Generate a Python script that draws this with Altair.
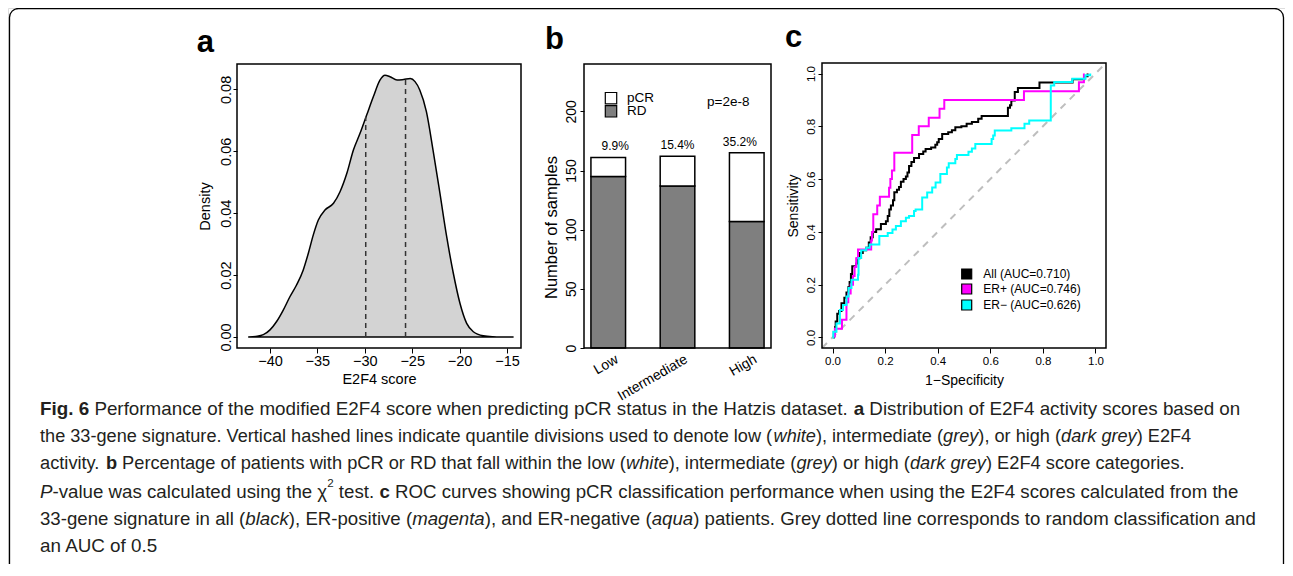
import altair as alt
import pandas as pd

# ---------------- data: panel a (density of E2F4 score) ----------------
dens_x = [-42.3, -41.5, -40.7, -40.0, -39.3, -38.6, -37.9, -37.2, -36.5, -35.96,
          -35.43, -34.9, -34.2, -33.3, -32.6, -31.9, -31.2, -30.5, -29.8, -29.1,
          -28.4, -27.87, -27.34, -26.6, -25.9, -25.2, -24.7, -24.2, -23.5, -22.8,
          -22.07, -21.36, -20.66, -19.96, -19.25, -18.55, -17.5, -16.5, -15.5, -14.3]
dens_y = [0.0, 0.0002, 0.00075, 0.0023, 0.005, 0.0087, 0.013, 0.0168, 0.0216, 0.027,
          0.033, 0.0378, 0.041, 0.0432, 0.047, 0.0528, 0.0604, 0.0658, 0.0717, 0.0776,
          0.083, 0.0846, 0.0841, 0.083, 0.0832, 0.0835, 0.0825, 0.0798, 0.0728, 0.0604,
          0.0464, 0.0324, 0.0206, 0.0109, 0.0044, 0.0017, 0.0004, 0.0001, 0.00002, 0.0]
quant_x = [-29.9, -25.7]
quant_top = [0.0711, 0.0832]
a_xticks = [-40, -35, -30, -25, -20, -15]
a_yticks = [0.0, 0.02, 0.04, 0.06, 0.08]

# ---------------- data: panel b (stacked bars) ----------------
cats = ["Low", "Intermediate", "High"]
rd_n = [145, 137, 107]
pcr_n = [16, 25, 58]
b_yticks = [0, 50, 100, 150, 200]
b_legend = ["pCR", "RD"]
b_legend_fill = ["white", "#7f7f7f"]
p_text = "p=2e-8"

# ---------------- data: panel c (ROC curves) ----------------
all_fpr = [0.003, 0.005, 0.010, 0.012, 0.018, 0.025, 0.034, 0.045, 0.053, 0.060,
           0.065, 0.070, 0.075, 0.090, 0.095, 0.103, 0.115, 0.128, 0.138, 0.145,
           0.153, 0.166, 0.184, 0.203, 0.210, 0.216, 0.222, 0.230, 0.235, 0.245,
           0.253, 0.260, 0.270, 0.279, 0.285, 0.291, 0.300, 0.310, 0.329, 0.345,
           0.354, 0.375, 0.391, 0.398, 0.404, 0.417, 0.440, 0.454, 0.467, 0.490,
           0.510, 0.530, 0.554, 0.567, 0.667, 0.675, 0.680, 0.693, 0.705, 0.787,
           0.913, 0.957, 0.970]
all_tpr = [0.000, 0.020, 0.040, 0.060, 0.090, 0.100, 0.130, 0.150, 0.170, 0.190,
           0.210, 0.240, 0.270, 0.280, 0.300, 0.320, 0.330, 0.340, 0.360, 0.380,
           0.400, 0.410, 0.430, 0.440, 0.460, 0.485, 0.500, 0.520, 0.550, 0.560,
           0.570, 0.590, 0.600, 0.610, 0.625, 0.650, 0.665, 0.680, 0.695, 0.705,
           0.714, 0.720, 0.730, 0.740, 0.752, 0.771, 0.778, 0.785, 0.797, 0.800,
           0.810, 0.816, 0.829, 0.839, 0.870, 0.880, 0.898, 0.930, 0.945, 0.966,
           0.978, 0.990, 1.000]
erp_fpr = [0.009, 0.009, 0.036, 0.053, 0.053, 0.060, 0.069, 0.078, 0.084, 0.090,
           0.097, 0.147, 0.150, 0.155, 0.170, 0.180, 0.215, 0.220, 0.226, 0.235,
           0.303, 0.328, 0.366, 0.407, 0.425, 0.728, 0.937, 0.956]
erp_tpr = [0.000, 0.033, 0.067, 0.100, 0.133, 0.167, 0.200, 0.233, 0.267, 0.300,
           0.333, 0.367, 0.400, 0.467, 0.500, 0.533, 0.567, 0.600, 0.633, 0.700,
           0.767, 0.800, 0.833, 0.867, 0.900, 0.933, 0.967, 1.000]
ern_fpr = [0.000, 0.003, 0.015, 0.028, 0.040, 0.053, 0.061, 0.072, 0.097, 0.099,
           0.109, 0.128, 0.141, 0.178, 0.210, 0.228, 0.241, 0.260, 0.279, 0.291,
           0.310, 0.316, 0.341, 0.360, 0.379, 0.392, 0.410, 0.435, 0.442, 0.467,
           0.473, 0.517, 0.530, 0.543, 0.605, 0.611, 0.617, 0.680, 0.730, 0.748,
           0.830, 0.843, 0.912, 0.962, 0.980]
ern_tpr = [0.000, 0.022, 0.053, 0.104, 0.123, 0.155, 0.187, 0.219, 0.238, 0.301,
           0.330, 0.340, 0.352, 0.384, 0.396, 0.409, 0.422, 0.440, 0.454, 0.460,
           0.479, 0.485, 0.530, 0.549, 0.568, 0.587, 0.619, 0.644, 0.660, 0.676,
           0.691, 0.704, 0.716, 0.733, 0.752, 0.765, 0.784, 0.793, 0.810, 0.822,
           0.955, 0.968, 0.980, 0.994, 1.000]
c_ticks = [0.0, 0.2, 0.4, 0.6, 0.8, 1.0]
c_legend = ["All (AUC=0.710)", "ER+ (AUC=0.746)", "ER\u2212 (AUC=0.626)"]
c_colors = ["black", "#ff00ff", "#00ffff"]

panel_letters = ["a", "b", "c"]

caption_lines = [
    [("Fig. 6", "bold"),
     (" Performance of the modified E2F4 score when predicting pCR status in the Hatzis dataset. ", "normal"),
     ("a", "bold"), (" Distribution of E2F4 activity scores based on", "normal")],
    [("the 33-gene signature. Vertical hashed lines indicate quantile divisions used to denote low (", "normal"),
     ("white", "italic"), ("), intermediate (", "normal"), ("grey", "italic"),
     ("), or high (", "normal"), ("dark grey", "italic"), (") E2F4", "normal")],
    [("activity. ", "normal"), ("b", "bold"),
     (" Percentage of patients with pCR or RD that fall within the low (", "normal"),
     ("white", "italic"), ("), intermediate (", "normal"), ("grey", "italic"),
     (") or high (", "normal"), ("dark grey", "italic"), (") E2F4 score categories.", "normal")],
    [("P", "italic"), ("-value was calculated using the \u03c7", "normal"), ("2", "sup"),
     (" test. ", "normal"), ("c", "bold"),
     (" ROC curves showing pCR classification performance when using the E2F4 scores calculated from the", "normal")],
    [("33-gene signature in all (", "normal"), ("black", "italic"), ("), ER-positive (", "normal"),
     ("magenta", "italic"), ("), and ER-negative (", "normal"), ("aqua", "italic"),
     (") patients. Grey dotted line corresponds to random classification and", "normal")],
    [("an AUC of 0.5", "normal")],
]

# ---------------- layout (chart pixels) ----------------
W, H = 1277, 556
FONT = "Liberation Sans"
CAP_FONT = "Liberation Sans"
INK = "#231f20"
PA = (229, 513, 56, 340)   # x left, x right, y top, y bottom
PB = (576, 763, 56, 340)
PC = (814, 1098, 55, 340)
CAP_X = 32
CAP_END = [1247, 1136, 1138, 1234, 1247, 152]   # right end of each caption line
CAP_Y = [401, 429, 456, 484, 511, 538]
CAP_MAX = 1249

# Arial / Liberation Sans advance widths (1/1000 em)
_w = [278, 278, 355, 556, 556, 889, 667, 191, 333, 333, 389, 584, 278, 333, 278, 278] + [556] * 10 + \
     [278, 278, 584, 584, 584, 556, 1015,
      667, 667, 722, 722, 667, 611, 778, 722, 278, 500, 667, 556, 833, 722, 778, 667, 778, 722, 667,
      611, 722, 667, 944, 667, 667, 611, 278, 278, 278, 469, 556, 333,
      556, 556, 500, 556, 556, 278, 556, 556, 222, 222, 500, 222, 833, 556, 556, 556, 556, 333, 500,
      278, 556, 500, 722, 500, 500, 500, 334, 260, 334, 584]
HELV = {chr(32 + i): v for i, v in enumerate(_w)}
HELV_B = dict(HELV)
HELV_B.update({"F": 611, "i": 278, "g": 611, ".": 278, " ": 278, "6": 556, "a": 556, "b": 611, "c": 556})
SUP = 0.62


def tw(s, size, bold=False):
    tab = HELV_B if bold else HELV
    return sum(tab.get(ch, 520) for ch in s) * size / 1000.0


def line_units(segs):
    return sum(tw(t, SUP if st == "sup" else 1.0, st == "bold") for t, st in segs)


# one common size (longest line fits the frame), nudged gently per line towards its end
FS = (CAP_MAX - CAP_X) / max(line_units(s) for s in caption_lines)

cap_rows = []
for li, segs in enumerate(caption_lines):
    ratio = (CAP_END[li] - CAP_X) / (line_units(segs) * FS)
    fs = FS * ratio ** 0.4
    fs = min(fs, (CAP_MAX - CAP_X) / line_units(segs))
    cx = CAP_X
    for text, style in segs:
        size = fs * SUP if style == "sup" else fs
        bold = style == "bold"
        lead = len(text) - len(text.lstrip(" "))
        body = text.strip(" ")
        if body:
            cap_rows.append(dict(px=cx + lead * tw(" ", size, bold),
                                 py=CAP_Y[li] - (0.42 * fs if style == "sup" else 0.0),
                                 t=body, s=style, fs=size))
        cx += tw(text, size, bold)
cap = pd.DataFrame(cap_rows)


def axis(**kw):
    base = dict(domain=False, grid=False, tickColor="black", tickWidth=1,
                labelColor="black", labelFont=FONT, titleFont=FONT, titleColor="black",
                titleFontWeight="normal", labelOverlap=False, labelFlush=False)
    base.update(kw)
    return alt.Axis(**base)


def yaxis(P, values, fmt, lsize, title, tsize, tx, ty, pad):
    return axis(orient="left", offset=-P[0], values=values, format=fmt, tickSize=4,
                labelPadding=pad, labelAngle=270, labelAlign="center", labelBaseline="middle",
                labelFontSize=lsize, title=title, titleFontSize=tsize, titleX=tx, titleY=ty,
                titleAngle=270, titleAlign="center", titleBaseline="middle")


def xaxis(P, values, fmt, lsize, title, tsize, ty):
    return axis(orient="bottom", offset=P[3] - H, values=values, format=fmt, tickSize=5,
                labelPadding=8.5, labelBaseline="middle", labelFontSize=lsize,
                title=title, titleFontSize=tsize, titleX=(P[0] + P[1]) / 2, titleY=ty,
                titleAngle=0, titleAlign="center", titleBaseline="middle")


one = pd.DataFrame({"k": [0]})

# ---------------- panel a ----------------
dens = pd.DataFrame({"x": dens_x, "y": dens_y, "y0": 0.0})
quant = pd.DataFrame({"x": quant_x, "top": quant_top, "y0": 0.0})


def xa():
    return alt.Scale(domain=[-43.48, -13.52], range=[PA[0], PA[1]], nice=False, zero=False)


def ya():
    return alt.Scale(domain=[-0.00355, 0.0882], range=[PA[3], PA[2]], nice=False, zero=False)


a_area = alt.Chart(dens).mark_area(fill="#d3d3d3", stroke="black", strokeWidth=1.5,
                                   interpolate="monotone").encode(
    x=alt.X("x:Q", scale=xa(), axis=xaxis(PA, a_xticks, "d", 14.5, "E2F4 score", 14.5, 31)),
    y=alt.Y("y:Q", scale=ya(), axis=yaxis(PA, a_yticks, ".2f", 14.5, "Density", 14.5, -32,
                                          (PA[2] + PA[3]) / 2, 6.3)),
    y2=alt.Y2("y0:Q"),
)
a_quant = alt.Chart(quant).mark_rule(strokeDash=[5, 4], strokeWidth=1.5, color="#333333").encode(
    x=alt.X("x:Q", scale=xa(), axis=None),
    y=alt.Y("y0:Q", scale=ya(), axis=None),
    y2=alt.Y2("top:Q"),
)

# ---------------- panel b ----------------
bdf = pd.DataFrame({"cat": cats, "rd": rd_n, "pcr": pcr_n})
bdf["tot"] = bdf["rd"] + bdf["pcr"]
bdf["base"] = 0
bdf["pct"] = (100.0 * bdf["pcr"] / bdf["tot"]).map(lambda v: f"{v:.1f}%")


def xb():
    return alt.Scale(domain=cats, range=[PB[0], PB[1]], paddingInner=0.5, paddingOuter=0.1)


def yb():
    return alt.Scale(domain=[0, 240], range=[PB[3], PB[2]], nice=False, zero=False)


b_rd = alt.Chart(bdf).mark_bar(fill="#7f7f7f", stroke="black", strokeWidth=1.5).encode(
    x=alt.X("cat:N", scale=xb(), sort=cats,
            axis=axis(orient="bottom", offset=PB[3] - H, ticks=False, labelAngle=330,
                      labelAlign="right", labelBaseline="middle", labelPadding=10,
                      labelOffset=9, labelFontSize=14, title=None)),
    y=alt.Y("rd:Q", scale=yb(), axis=yaxis(PB, b_yticks, "d", 14, "Number of samples", 16.5,
                                            -32.3, 219, 8.3)),
    y2=alt.Y2("base:Q"),
)
b_pcr = alt.Chart(bdf).mark_bar(fill="white", stroke="black", strokeWidth=1.5).encode(
    x=alt.X("cat:N", scale=xb(), sort=cats, axis=None),
    y=alt.Y("tot:Q", scale=yb(), axis=None),
    y2=alt.Y2("rd:Q"),
)
b_pct = alt.Chart(bdf).mark_text(dy=-11, fontSize=12, font=FONT, color="black",
                                 baseline="middle").encode(
    x=alt.X("cat:N", scale=xb(), sort=cats, axis=None),
    y=alt.Y("tot:Q", scale=yb(), axis=None),
    text="pct:N",
)

bleg = pd.DataFrame({"lab": b_legend, "fill": b_legend_fill,
                     "px": [PB[0] + 27] * 2, "py": [PB[2] + 34.2, PB[2] + 47.3]})
b_leg_sq = alt.Chart(bleg).mark_square(size=130, filled=True, stroke="black",
                                       strokeWidth=1.2, opacity=1).encode(
    x=alt.X("px:Q", scale=None, axis=None), y=alt.Y("py:Q", scale=None, axis=None),
    fill=alt.Fill("fill:N", scale=None))
b_leg_tx = alt.Chart(bleg).mark_text(align="left", baseline="middle", fontSize=13.5,
                                     font=FONT, color="black", dx=16).encode(
    x=alt.X("px:Q", scale=None, axis=None), y=alt.Y("py:Q", scale=None, axis=None),
    text="lab:N")
b_p = alt.Chart(pd.DataFrame({"t": [p_text], "px": [PB[0] + 123], "py": [PB[2] + 37.7]})).mark_text(
    align="left", baseline="middle", fontSize=13.5, font=FONT, color="black").encode(
    x=alt.X("px:Q", scale=None, axis=None), y=alt.Y("py:Q", scale=None, axis=None), text="t:N")

# ---------------- panel c ----------------


def xc():
    return alt.Scale(domain=[-0.04, 1.04], range=[PC[0], PC[1]], nice=False, zero=False)


def yc():
    return alt.Scale(domain=[-0.04, 1.04], range=[PC[3], PC[2]], nice=False, zero=False)


diag = pd.DataFrame({"x": [-0.04, 1.04], "y": [-0.04, 1.04]})
c_diag = alt.Chart(diag).mark_line(color="#bebebe", strokeWidth=2, strokeDash=[7, 6]).encode(
    x=alt.X("x:Q", scale=xc(), axis=xaxis(PC, c_ticks, ".1f", 11.5, "1\u2212Specificity", 14, 32)),
    y=alt.Y("y:Q", scale=yc(), axis=yaxis(PC, c_ticks, ".1f", 11.5, "Sensitivity", 14, -28.7,
                                          (PC[2] + PC[3]) / 2, 6.3)),
)


def roc(fpr, tpr, color):
    d = pd.DataFrame({"x": fpr, "y": tpr, "i": list(range(len(fpr)))})
    return alt.Chart(d).mark_line(color=color, strokeWidth=2, interpolate="step-after").encode(
        x=alt.X("x:Q", scale=xc(), axis=None),
        y=alt.Y("y:Q", scale=yc(), axis=None),
        order=alt.Order("i:Q"),
    )


cleg = pd.DataFrame({"lab": c_legend, "fill": c_colors,
                     "px": [PC[0] + 144.7] * 3, "py": [PC[2] + 211, PC[2] + 226, PC[2] + 242]})
c_leg_sq = alt.Chart(cleg).mark_square(size=100, filled=True, stroke="black",
                                       strokeWidth=1.2, opacity=1).encode(
    x=alt.X("px:Q", scale=None, axis=None), y=alt.Y("py:Q", scale=None, axis=None),
    fill=alt.Fill("fill:N", scale=None))
c_leg_tx = alt.Chart(cleg).mark_text(align="left", baseline="middle", fontSize=12,
                                     font=FONT, color="black", dx=16.6).encode(
    x=alt.X("px:Q", scale=None, axis=None), y=alt.Y("py:Q", scale=None, axis=None),
    text="lab:N")

# ---------------- frames, letters, border, caption ----------------
frames = [alt.Chart(one).mark_rect(filled=False, stroke="black", strokeWidth=1.5).encode(
    x=alt.value(P[0]), x2=alt.value(P[1]), y=alt.value(P[2]), y2=alt.value(P[3]))
    for P in (PA, PB, PC)]

letters = pd.DataFrame({"t": panel_letters, "px": [188.7, 537, 777], "py": [43.5, 41, 39]})
letter_layer = alt.Chart(letters).mark_text(align="left", baseline="alphabetic", fontSize=31,
                                            fontWeight="bold", font=FONT, color="black").encode(
    x=alt.X("px:Q", scale=None, axis=None), y=alt.Y("py:Q", scale=None, axis=None), text="t:N")

border = alt.Chart(one).mark_rect(filled=False, stroke="black", strokeWidth=1.3,
                                  cornerRadius=9).encode(
    x=alt.value(1.5), x2=alt.value(W - 1.5), y=alt.value(0.5), y2=alt.value(H + 60))


def cap_layer(style, **kw):
    props = dict(align="left", baseline="middle", font=CAP_FONT, color=INK)
    props.update(kw)
    return alt.Chart(cap).transform_filter(alt.datum.s == style).mark_text(**props).encode(
        x=alt.X("px:Q", scale=None, axis=None), y=alt.Y("py:Q", scale=None, axis=None),
        text="t:N", size=alt.Size("fs:Q", scale=None, legend=None))


caption = [cap_layer("normal"), cap_layer("bold", fontWeight="bold"),
           cap_layer("italic", fontStyle="italic"), cap_layer("sup")]

chart = alt.layer(
    border, a_area, a_quant, b_rd, b_pcr, b_pct, c_diag,
    roc(all_fpr, all_tpr, c_colors[0]), roc(erp_fpr, erp_tpr, c_colors[1]),
    roc(ern_fpr, ern_tpr, c_colors[2]),
    *frames, b_leg_sq, b_leg_tx, b_p, c_leg_sq, c_leg_tx, letter_layer, *caption
).resolve_scale(x="independent", y="independent").properties(
    width=W, height=H, padding=0, autosize=alt.AutoSizeParams(type="none")
).configure_view(stroke=None).configure(background="white")

chart.save("out.html", embed_options={"renderer": "svg", "actions": False})
